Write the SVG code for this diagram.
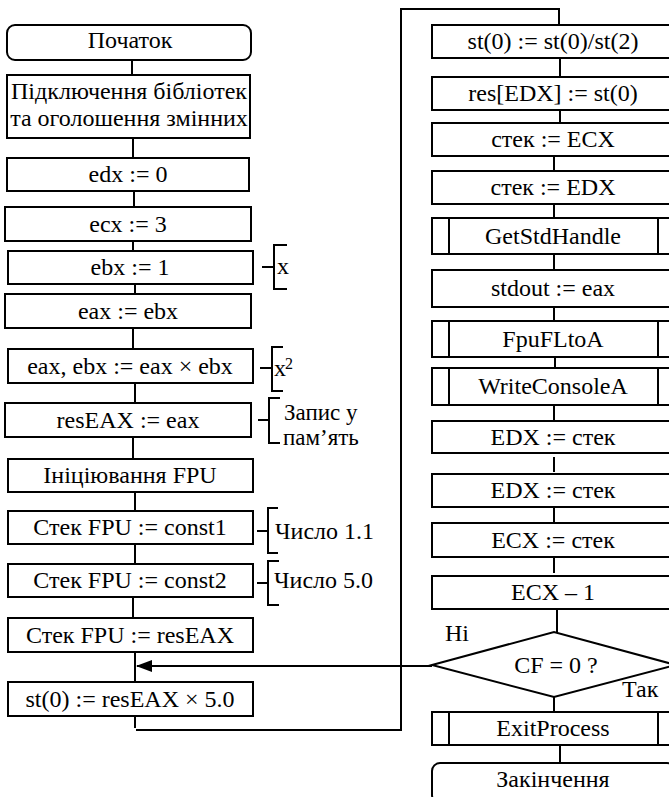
<svg xmlns="http://www.w3.org/2000/svg" width="669" height="797" viewBox="0 0 669 797">
<defs>
<style>
.b{fill:#fff;stroke:#000;stroke-width:2}
.l{fill:none;stroke:#000;stroke-width:2}
.t{font-family:'Liberation Serif','DejaVu Serif',serif;font-size:24px;fill:#000}
.c{text-anchor:middle}
</style>
<marker id="ah" markerWidth="16" markerHeight="12" refX="15" refY="6" orient="auto" markerUnits="userSpaceOnUse">
<path d="M0,0 L16,6 L0,12 Z" fill="#000"/>
</marker>
</defs>
<rect width="669" height="797" fill="#fff"/>
<g id="connectors">
<path class="l" d="M132,60V75M133,138V158M134,191V207M133,241V251M135,284V294M133,328V349M135,383V403M133,437V459M135,492V511M135,544V564M133,597V618M135,652V682M135,716V728"/>
<path class="l" d="M136,730H401V9H559V25"/>
<path class="l" d="M560,58V77M560,110V123M554,156V171M554,204V218M554,254V270M554,307V321M555,357V368M554,405V421M554,457V472M554,507V523M554,558V573M557,609V632M554,697V712M560,746V763"/>
<path class="l" d="M432,666H137" marker-end="url(#ah)"/>
</g>
<g class="t" font-family="'Liberation Serif', 'DejaVu Serif', serif">
<g id="n-start"><rect class="b" x="7" y="25" width="244" height="35" rx="8"/><text class="c" x="130" y="48">Початок</text></g>
<g id="n-libs"><rect class="b" x="7" y="75" width="243" height="63"/><text class="c" x="129" y="99">Підключення бібліотек</text><text class="c" x="129" y="126">та оголошення змінних</text></g>
<g id="n-edx"><rect class="b" x="7" y="158" width="242" height="33"/><text class="c" x="128" y="182">edx := 0</text></g>
<g id="n-ecx"><rect class="b" x="5" y="207" width="246" height="34"/><text class="c" x="128" y="232">ecx := 3</text></g>
<g id="n-ebx"><rect class="b" x="8" y="251" width="245" height="33"/><text class="c" x="130" y="275">ebx := 1</text></g>
<g id="n-eax"><rect class="b" x="5" y="294" width="246" height="34"/><text class="c" x="128" y="319">eax := ebx</text></g>
<g id="n-mul"><rect class="b" x="8" y="349" width="245" height="34"/><text class="c" x="130" y="374">eax, ebx := eax × ebx</text></g>
<g id="n-res"><rect class="b" x="5" y="403" width="246" height="34"/><text class="c" x="128" y="428">resEAX := eax</text></g>
<g id="n-fpu"><rect class="b" x="8" y="459" width="245" height="33"/><text class="c" x="130" y="483">Ініціювання FPU</text></g>
<g id="n-c1"><rect class="b" x="8" y="511" width="245" height="33"/><text class="c" x="130" y="535">Стек FPU := const1</text></g>
<g id="n-c2"><rect class="b" x="8" y="564" width="245" height="33"/><text class="c" x="130" y="588">Стек FPU := const2</text></g>
<g id="n-push"><rect class="b" x="8" y="618" width="245" height="34"/><text class="c" x="130" y="643">Стек FPU := resEAX</text></g>
<g id="n-st0"><rect class="b" x="8" y="682" width="245" height="34"/><text class="c" x="130" y="707">st(0) := resEAX × 5.0</text></g>
<g id="ann-x"><path class="l" d="M262,267H274M287,245H274V289H287"/><text x="277" y="274">x</text></g>
<g id="ann-x2"><path class="l" d="M260,368H272M283,347H272V391H283"/><text x="274" y="376">x</text><text x="285" y="369" font-size="16">2</text></g>
<g id="ann-mem"><path class="l" d="M258,420H269M280,398H269V443H280"/><text x="284" y="420" font-size="23">Запис у</text><text x="283" y="445" font-size="23">пам’ять</text></g>
<g id="ann-11"><path class="l" d="M257,531H268M278,508H268V553H278"/><text x="275" y="539">Число 1.1</text></g>
<g id="ann-50"><path class="l" d="M257,583H268M279,561H268V605H279"/><text x="274" y="588">Число 5.0</text></g>
<g id="n-div"><rect class="b" x="432" y="25" width="243" height="33"/><text class="c" x="553" y="49">st(0) := st(0)/st(2)</text></g>
<g id="n-resedx"><rect class="b" x="432" y="77" width="243" height="33"/><text class="c" x="553" y="101">res[EDX] := st(0)</text></g>
<g id="n-pecx"><rect class="b" x="432" y="123" width="243" height="33"/><text class="c" x="553" y="147">стек := ECX</text></g>
<g id="n-pedx"><rect class="b" x="432" y="171" width="243" height="33"/><text class="c" x="553" y="195">стек := EDX</text></g>
<g id="n-gsh"><rect class="b" x="432" y="218" width="243" height="36"/><path class="l" d="M449,218V254M658,218V254"/><text class="c" x="553" y="244">GetStdHandle</text></g>
<g id="n-stdout"><rect class="b" x="432" y="270" width="243" height="37"/><text class="c" x="553" y="296">stdout := eax</text></g>
<g id="n-fpufl"><rect class="b" x="432" y="321" width="243" height="36"/><path class="l" d="M449,321V357M658,321V357"/><text class="c" x="553" y="347">FpuFLtoA</text></g>
<g id="n-wca"><rect class="b" x="432" y="368" width="243" height="37"/><path class="l" d="M449,368V405M658,368V405"/><text class="c" x="553" y="394">WriteConsoleA</text></g>
<g id="n-popedx1"><rect class="b" x="432" y="421" width="243" height="32"/><text class="c" x="553" y="445">EDX := стек</text></g>
<g id="n-popedx2"><rect class="b" x="432" y="474" width="243" height="33"/><text class="c" x="553" y="498">EDX := стек</text></g>
<g id="n-popecx"><rect class="b" x="432" y="523" width="243" height="34"/><text class="c" x="553" y="548">ECX := стек</text></g>
<g id="n-dec"><rect class="b" x="432" y="576" width="243" height="33"/><text class="c" x="553" y="600">ECX – 1</text></g>
<g id="n-cf"><path class="b" d="M432,665L554,632L676,665L554,697Z"/><text class="c" x="556" y="673">CF = 0 ?</text><text x="445" y="641">Ні</text><text x="622" y="697">Так</text></g>
<g id="n-exit"><rect class="b" x="432" y="712" width="243" height="33"/><path class="l" d="M449,712V745M658,712V745"/><text class="c" x="553" y="736">ExitProcess</text></g>
<g id="n-end"><rect class="b" x="432" y="763" width="243" height="40" rx="8"/><text class="c" x="553" y="787">Закінчення</text></g>
</g>
</svg>
